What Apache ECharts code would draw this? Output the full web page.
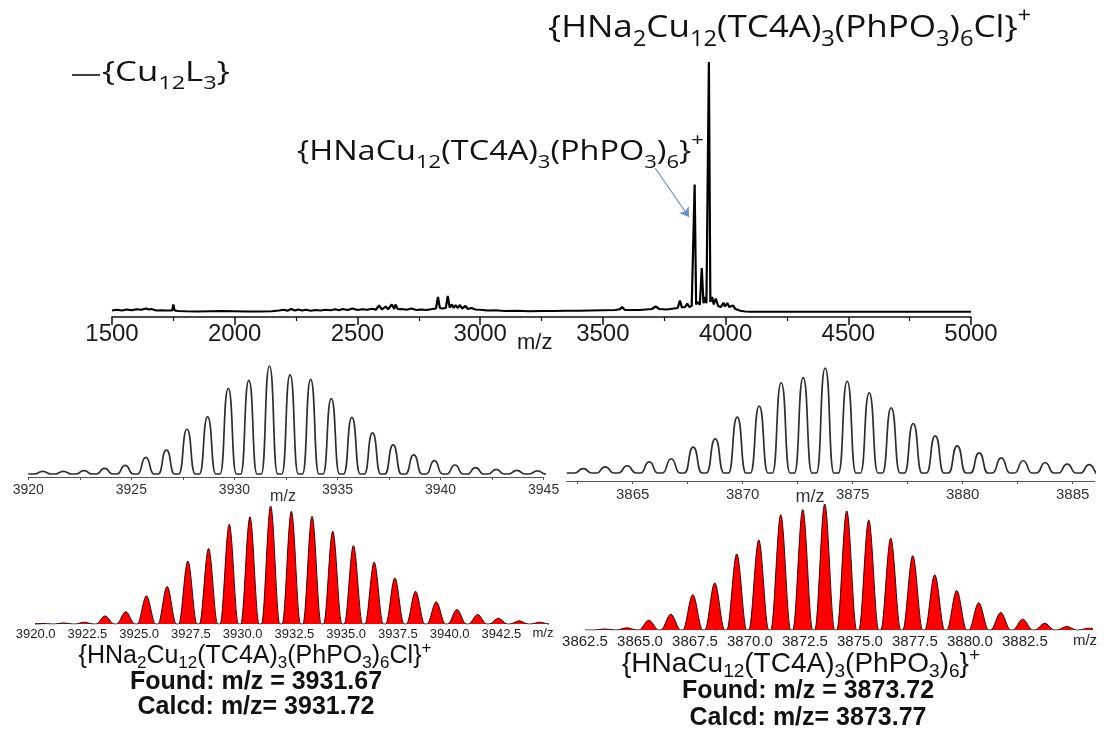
<!DOCTYPE html>
<html><head><meta charset="utf-8">
<script src="https://cdn.jsdelivr.net/npm/echarts@6/dist/echarts.min.js"></script>
<style>html,body{margin:0;padding:0;background:#fff}#c{width:1105px;height:731px}</style>
</head><body><div id="c"></div>
<script>
// ---------- main ESI-MS spectrum ----------
const mainMz = [1500,1520,1540,1560,1580,1600,1620,1640,1650,1660,1680,1700,1720,1745,1750,1755,1770,1800,1850,1900,1950,2000,2050,2100,2150,2180,2200,2215,2230,2245,2260,2275,2290,2310,2330,2350,2370,2390,2410,2425,2440,2460,2480,2500,2520,2540,2560,2575,2588,2600,2615,2625,2640,2650,2655,2665,2680,2700,2720,2740,2760,2780,2800,2820,2828,2836,2845,2860,2868,2876,2885,2892,2900,2908,2918,2926,2940,2950,2965,2980,3000,3030,3060,3100,3150,3200,3250,3300,3350,3400,3450,3500,3550,3570,3578,3590,3650,3700,3715,3730,3760,3790,3805,3814,3822,3835,3844,3852,3862,3867,3874,3880,3887,3895,3903,3910,3916,3922,3926,3932,3938,3945,3952,3960,3970,3980,3992,3998,4007,4015,4030,4040,4060,4080,4100,4200,4300,4400,4500,4600,4700,4800,4900,5000];
const mainInt = [0.6,0.9,0.6,1.0,0.7,1.1,0.9,1.4,1.0,1.2,0.6,0.7,0.6,0.6,3.0,0.6,0.4,0.3,0.2,0.3,0.4,0.3,0.2,0.2,0.3,0.6,0.9,0.5,1.2,0.6,1.0,0.6,0.9,0.5,0.8,0.6,0.9,0.7,1.1,0.7,1.2,0.8,1.4,0.8,1.1,0.9,1.3,0.9,2.6,1.0,2.2,1.1,3.0,1.2,3.0,1.1,1.2,0.9,1.4,0.8,1.0,0.8,1.1,1.4,6.0,1.6,1.4,1.6,6.4,1.8,3.0,1.6,2.8,1.6,2.8,1.4,2.4,1.2,1.6,1.0,0.9,0.6,0.7,0.4,0.5,0.3,0.4,0.4,0.5,0.5,0.6,0.7,0.8,1.1,2.0,0.8,0.8,1.2,2.2,1.2,1.0,1.4,1.6,4.6,1.8,2.0,3.4,2.0,2.4,3.0,51,3.0,4.0,2.8,17.6,3.5,6.0,3.5,4.0,100,4.0,6.0,3.0,5.4,2.4,2.0,3.6,2.2,3.6,2.0,2.6,1.2,0.5,0.2,0.1,0.1,0.1,0.1,0.1,0.1,0.1,0.1,0.1,0.1];
const mainTicks = [1500,2000,2500,3000,3500,4000,4500,5000];
const arrowFrom = [3713, 57.6];
const arrowTo = [3851, 38];

// ---------- experimental isotope patterns ----------
const exp1Mz = [3920.7,3921.7,3922.7,3923.7,3924.7,3925.7,3926.7,3927.7,3928.7,3929.7,3930.7,3931.7,3932.7,3933.7,3934.7,3935.7,3936.7,3937.7,3938.7,3939.7,3940.7,3941.7,3942.7,3943.7,3944.7];
const exp1Int = [2.5,2.5,3.1,5.2,8.0,15.4,22.2,41.4,52.8,79.3,86.7,100,91.7,87.7,69.8,52.5,38,26.9,17.6,12.3,8.3,5.9,4.3,3.4,2.8];
const exp1Labels = [3920,3925,3930,3935,3940,3945];
const exp1Ticks = [3920,3922.5,3925,3927.5,3930,3932.5,3935,3937.5,3940,3942.5,3945];

const exp2Mz = [3862.75,3863.75,3864.75,3865.75,3866.75,3867.75,3868.75,3869.75,3870.75,3871.75,3872.75,3873.75,3874.75,3875.75,3876.75,3877.75,3878.75,3879.75,3880.75,3881.75,3882.75,3883.75,3884.75,3885.75];
const exp2Int = [4.1,5.9,6.9,10.7,13.6,24.6,32.5,53.3,63.7,86.1,90.9,100,87.4,76.3,62.1,47,35.3,25.9,19.2,14.5,11.7,9.8,8.5,7.9];
const exp2Labels = [3865,3870,3875,3880,3885];
const exp2Ticks = [3862.5,3865,3867.5,3870,3872.5,3875,3877.5,3880,3882.5,3885];

// ---------- simulated isotope patterns ----------
const sim1Mz = [3920.35,3921.35,3922.35,3923.35,3924.35,3925.35,3926.35,3927.35,3928.35,3929.35,3930.35,3931.35,3932.35,3933.35,3934.35,3935.35,3936.35,3937.35,3938.35,3939.35,3940.35,3941.35,3942.35,3943.35,3944.35];
const sim1Int = [0.4,0.9,1.5,6.8,10.4,23.8,31.8,53.3,64,84.5,90.8,100,95.5,91.4,78.6,66.4,52.4,39,27.7,18.8,12.2,8,4.8,2.7,1.5];
const sim1Labels = [3920,3922.5,3925,3927.5,3930,3932.5,3935,3937.5,3940,3942.5];

const sim2Mz = [3863.4,3864.4,3865.4,3866.4,3867.4,3868.4,3869.4,3870.4,3871.4,3872.4,3873.4,3874.4,3875.4,3876.4,3877.4,3878.4,3879.4,3880.4,3881.4,3882.4,3883.4,3884.4,3885.4];
const sim2Int = [0.8,1.7,7.8,12.5,28,37.4,60.4,71.5,91.4,95.6,100,94.5,87.3,72.9,59,43.8,31.3,21.6,13.9,8.6,5.3,2.8,1.4];
const sim2Labels = [3862.5,3865,3867.5,3870,3872.5,3875,3877.5,3880,3882.5];

// builds a peak trace: baseline feet on both sides of each apex read above
function profile(mz, h, foot, x0, x1) {
  const pts = [[x0, 0]];
  for (let i = 0; i < mz.length; i++) {
    pts.push([mz[i] - foot, 0]);
    pts.push([mz[i], h[i]]);
    pts.push([mz[i] + foot, 0]);
  }
  pts.push([x1, 0]);
  return pts;
}

const chart = echarts.init(document.getElementById('c'), null, {renderer: 'canvas'});
const SANS = 'Liberation Sans, Arial, sans-serif';
const NARROW = 'Liberation Sans Narrow, Liberation Sans, Arial, sans-serif';
const HUM = 'Open Sans, Noto Sans, sans-serif';

function richFor(sub, shift, fam) {
  return {
    s: {fontSize: sub, fontFamily: fam, padding: [shift, 0, 0, 0]},
    p: {fontSize: sub, fontFamily: fam, padding: [0, 0, shift, 0]}
  };
}
const plain = v => String(v);
const hidY = (gi, min) => ({type: 'value', gridIndex: gi, min: min, max: 100, show: false});

const option = {
  backgroundColor: '#fff',
  animation: false,
  grid: [
    {left: 112, right: 134, top: 62, bottom: 414},
    {left: 28.3, right: 561.4, top: 366, bottom: 254},
    {left: 566.7, right: 10.3, top: 368, bottom: 250},
    {left: 35.7, right: 558, top: 506, bottom: 107},
    {left: 585, right: 13, top: 504, bottom: 101}
  ],
  xAxis: [
    {type: 'value', gridIndex: 0, min: 1500, max: 5000, interval: 500,
      axisLine: {onZero: false, lineStyle: {color: '#111', width: 1.5}},
      axisTick: {length: 8, lineStyle: {color: '#111', width: 1.5}},
      minorTick: {show: true, splitNumber: 2, length: 4, lineStyle: {color: '#111', width: 1.2}},
      axisLabel: {fontSize: 24, fontFamily: SANS, color: '#1a1a1a', margin: 5, formatter: plain},
      splitLine: {show: false}},
    {type: 'value', gridIndex: 1, min: 3920, max: 3945,
      axisLine: {onZero: false, lineStyle: {color: '#555', width: 1.2}},
      axisTick: {customValues: exp1Ticks, length: 3, lineStyle: {color: '#555'}},
      axisLabel: {customValues: exp1Labels, fontSize: 14, fontFamily: SANS, color: '#333', margin: 6, formatter: plain},
      splitLine: {show: false}},
    {type: 'value', gridIndex: 2, min: 3862, max: 3886,
      axisLine: {onZero: false, lineStyle: {color: '#555', width: 1.2}},
      axisTick: {customValues: exp2Ticks, length: 3, lineStyle: {color: '#555'}},
      axisLabel: {customValues: exp2Labels, fontSize: 15, fontFamily: SANS, color: '#333', margin: 6, formatter: plain},
      splitLine: {show: false}},
    {type: 'value', gridIndex: 3, min: 3920, max: 3944.7,
      axisLine: {show: false}, axisTick: {show: false},
      axisLabel: {customValues: sim1Labels, fontSize: 13, fontFamily: NARROW, color: '#222', margin: 4, formatter: v => v.toFixed(1)},
      splitLine: {show: false}},
    {type: 'value', gridIndex: 4, min: 3862.5, max: 3885.55,
      axisLine: {show: false}, axisTick: {show: false},
      axisLabel: {customValues: sim2Labels, fontSize: 15, fontFamily: NARROW, color: '#222', margin: 4, formatter: v => v.toFixed(1)},
      splitLine: {show: false}}
  ],
  yAxis: [hidY(0, -2), hidY(1, -2.8), hidY(2, -7.6), hidY(3, 0), hidY(4, 0)],
  series: [
    {name: 'Cu12L3', type: 'line', xAxisIndex: 0, yAxisIndex: 0, symbol: 'none',
      data: mainMz.map((m, i) => [m, mainInt[i]]),
      lineStyle: {color: '#000', width: 2.2}, itemStyle: {color: '#000'},
      markLine: {silent: true, symbol: ['none', 'arrow'], symbolSize: 9,
        label: {show: false},
        lineStyle: {color: '#6a8fcf', width: 1.2, type: 'solid'},
        data: [[{coord: arrowFrom}, {coord: arrowTo}]]}},
    {name: 'exp1', type: 'line', xAxisIndex: 1, yAxisIndex: 1, symbol: 'none', smooth: 0.6, smoothMonotone: 'x',
      data: profile(exp1Mz, exp1Int, 0.4, 3920, 3945),
      lineStyle: {color: '#2e2e2e', width: 1.7}},
    {name: 'exp2', type: 'line', xAxisIndex: 2, yAxisIndex: 2, symbol: 'none', smooth: 0.6, smoothMonotone: 'x',
      data: profile(exp2Mz, exp2Int, 0.4, 3862, 3886),
      lineStyle: {color: '#2e2e2e', width: 1.7}},
    {name: 'sim1', type: 'line', xAxisIndex: 3, yAxisIndex: 3, symbol: 'none', smooth: 0.35, smoothMonotone: 'x',
      data: profile(sim1Mz, sim1Int, 0.44, 3920.3, 3944.7),
      lineStyle: {color: '#3a0000', width: 1}, areaStyle: {color: '#ff0000', opacity: 1}},
    {name: 'sim2', type: 'line', xAxisIndex: 4, yAxisIndex: 4, symbol: 'none', smooth: 0.35, smoothMonotone: 'x',
      data: profile(sim2Mz, sim2Int, 0.45, 3862.5, 3885.55),
      lineStyle: {color: '#3a0000', width: 1}, areaStyle: {color: '#ff0000', opacity: 1}}
  ],
  graphic: [
    {type: 'line', shape: {x1: 72, y1: 75, x2: 100, y2: 75}, style: {stroke: '#111', lineWidth: 1.6}},
    {type: 'text', x: 102, y: 73, scaleX: 1.24, style: {text: '{Cu{s|12}L{s|3}}', fontSize: 28, fontFamily: HUM, fill: '#111', verticalAlign: 'middle', rich: richFor(19, 22, HUM)}},
    {type: 'text', x: 548, y: 28, scaleX: 1.13, style: {text: '{HNa{s|2}Cu{s|12}(TC4A){s|3}(PhPO{s|3}){s|6}Cl}{p|+}', fontSize: 31, fontFamily: HUM, fill: '#111', verticalAlign: 'middle', rich: richFor(21, 24, HUM)}},
    {type: 'text', x: 297, y: 152, scaleX: 1.16, style: {text: '{HNaCu{s|12}(TC4A){s|3}(PhPO{s|3}){s|6}}{p|+}', fontSize: 28, fontFamily: HUM, fill: '#111', verticalAlign: 'middle', rich: richFor(19, 22, HUM)}},
    {type: 'text', x: 517, y: 343, style: {text: 'm/z', fontSize: 22, fontFamily: SANS, fill: '#1a1a1a', verticalAlign: 'middle'}},
    {type: 'text', x: 283, y: 497, style: {text: 'm/z', fontSize: 16, fontFamily: SANS, fill: '#333', align: 'center', verticalAlign: 'middle'}},
    {type: 'text', x: 810, y: 497, style: {text: 'm/z', fontSize: 18, fontFamily: SANS, fill: '#333', align: 'center', verticalAlign: 'middle'}},
    {type: 'text', x: 543, y: 633, style: {text: 'm/z', fontSize: 13, fontFamily: NARROW, fill: '#222', align: 'center', verticalAlign: 'middle'}},
    {type: 'text', x: 1085, y: 641, style: {text: 'm/z', fontSize: 15, fontFamily: NARROW, fill: '#222', align: 'center', verticalAlign: 'middle'}},
    {type: 'text', x: 255, y: 656, style: {text: '{HNa{s|2}Cu{s|12}(TC4A){s|3}(PhPO{s|3}){s|6}Cl}{p|+}', fontSize: 25, fontFamily: NARROW, fill: '#111', align: 'center', verticalAlign: 'middle', rich: richFor(17, 15, NARROW)}},
    {type: 'text', x: 256, y: 682, style: {text: 'Found: m/z = 3931.67', fontSize: 25, fontWeight: 'bold', fontFamily: NARROW, fill: '#111', align: 'center', verticalAlign: 'middle'}},
    {type: 'text', x: 256, y: 707, style: {text: 'Calcd: m/z= 3931.72', fontSize: 25, fontWeight: 'bold', fontFamily: NARROW, fill: '#111', align: 'center', verticalAlign: 'middle'}},
    {type: 'text', x: 801, y: 664, style: {text: '{HNaCu{s|12}(TC4A){s|3}(PhPO{s|3}){s|6}}{p|+}', fontSize: 28, fontFamily: NARROW, fill: '#111', align: 'center', verticalAlign: 'middle', rich: richFor(19, 16, NARROW)}},
    {type: 'text', x: 808, y: 691, style: {text: 'Found: m/z = 3873.72', fontSize: 25, fontWeight: 'bold', fontFamily: NARROW, fill: '#111', align: 'center', verticalAlign: 'middle'}},
    {type: 'text', x: 808, y: 718, style: {text: 'Calcd: m/z= 3873.77', fontSize: 25, fontWeight: 'bold', fontFamily: NARROW, fill: '#111', align: 'center', verticalAlign: 'middle'}}
  ]
};
chart.setOption(option);
</script>
</body></html>
